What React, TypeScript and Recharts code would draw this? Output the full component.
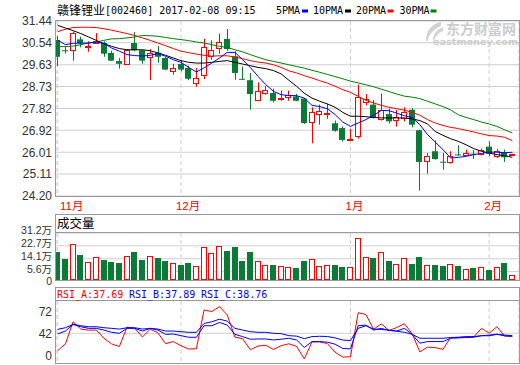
import React from 'react';
import { ComposedChart, Bar, Line, XAxis, YAxis, CartesianGrid, ReferenceLine } from 'recharts';

// daily candles, 2016-11 .. 2017-02-08
const opens = [30.65, 30.23, 30.23, 30.68, 30.36, 30.53, 30.53, 30.12, 29.78, 29.67, 30.53, 30.23, 29.94, 30.13, 29.91, 29.36, 29.66, 29.5, 28.86, 29.22, 30.01, 30.31, 30.7, 29.98, 29.05, 28.99, 28.16, 28.45, 28.46, 28.2, 28.28, 28.32, 28.23, 27.25, 27.61, 27.59, 27.21, 27.01, 26.5, 26.67, 28.08, 27.98, 27.39, 27.59, 27.34, 27.43, 27.77, 26.92, 25.63, 26.05, 25.62, 25.59, 25.92, 25.88, 25.95, 25.94, 26.24, 25.87, 26.01, 25.9];
const highs = [30.81, 30.39, 31.0, 30.79, 30.6, 30.94, 30.6, 30.21, 29.91, 30.28, 30.98, 30.25, 30.27, 30.4, 29.96, 29.67, 29.8, 29.59, 29.5, 30.7, 30.64, 30.92, 31.11, 30.19, 29.56, 29.29, 28.9, 28.74, 28.64, 28.56, 28.56, 28.42, 28.25, 27.87, 27.98, 28.01, 27.32, 27.08, 26.97, 28.81, 28.42, 28.17, 28.43, 27.81, 27.76, 27.87, 27.84, 26.94, 25.98, 26.5, 25.98, 26.05, 26.3, 26.12, 26.1, 26.16, 26.46, 26.14, 26.12, 25.95];
const lows = [29.58, 30.09, 29.8, 30.35, 30.17, 30.52, 29.96, 29.79, 29.47, 29.63, 30.19, 29.67, 29.0, 29.72, 29.41, 29.22, 29.36, 28.99, 28.72, 29.04, 29.84, 30.09, 30.21, 29.01, 29.01, 27.77, 28.12, 28.39, 28.07, 28.14, 28.14, 28.12, 27.18, 26.38, 27.15, 27.4, 26.86, 26.45, 26.49, 26.57, 27.95, 27.4, 27.32, 27.2, 27.07, 27.29, 27.04, 24.42, 25.12, 25.7, 25.29, 25.54, 25.87, 25.87, 25.73, 25.88, 25.85, 25.77, 25.61, 25.88];
const closes = [29.96, 30.21, 30.93, 30.53, 30.4, 30.6, 30.09, 29.8, 29.67, 30.24, 30.23, 29.8, 30.13, 29.96, 29.43, 29.5, 29.43, 29.05, 29.08, 30.35, 30.25, 30.56, 30.28, 29.29, 29.04, 28.42, 28.53, 28.59, 28.14, 28.25, 28.38, 28.14, 27.22, 27.66, 27.7, 27.65, 26.9, 26.52, 26.54, 28.28, 28.21, 27.43, 27.74, 27.29, 27.48, 27.66, 27.15, 25.61, 25.87, 25.73, 25.61, 25.84, 25.9, 25.98, 25.92, 26.12, 25.94, 26.08, 25.8, 25.92];

const ma5 = [30.65, 30.46, 30.52, 30.52, 30.53, 30.56, 30.52, 30.32, 30.19, 30.05, 30.01, 29.99, 30.02, 30.09, 29.98, 29.84, 29.73, 29.52, 29.33, 29.5, 29.7, 29.91, 30.14, 30.14, 29.84, 29.52, 29.15, 28.81, 28.53, 28.39, 28.36, 28.35, 28.25, 27.95, 27.9, 27.81, 27.57, 27.26, 27.08, 27.22, 27.36, 27.54, 27.74, 27.73, 27.63, 27.52, 27.45, 27.15, 26.74, 26.43, 26.12, 25.77, 25.8, 25.84, 25.91, 25.96, 26.02, 26.01, 25.99, 26.01];
const ma10 = [31.26, 31.15, 31.04, 30.92, 30.78, 30.64, 30.5, 30.39, 30.3, 30.25, 30.25, 30.25, 30.21, 30.12, 30.02, 29.91, 29.8, 29.73, 29.7, 29.7, 29.73, 29.77, 29.8, 29.73, 29.66, 29.59, 29.52, 29.47, 29.39, 29.25, 28.99, 28.74, 28.45, 28.25, 28.12, 28.01, 27.87, 27.66, 27.5, 27.5, 27.48, 27.45, 27.43, 27.43, 27.43, 27.43, 27.39, 27.32, 27.18, 26.87, 26.71, 26.57, 26.46, 26.32, 26.16, 26.05, 25.98, 25.91, 25.87, 25.8];
const ma20 = [31.0, 31.1, 31.17, 31.18, 31.18, 31.17, 31.12, 31.06, 30.99, 30.92, 30.84, 30.74, 30.64, 30.53, 30.42, 30.3, 30.19, 30.13, 30.07, 30.02, 29.99, 30.0, 30.0, 29.95, 29.88, 29.8, 29.74, 29.7, 29.63, 29.52, 29.38, 29.29, 29.18, 29.08, 28.97, 28.87, 28.74, 28.6, 28.49, 28.32, 28.16, 28.05, 27.95, 27.87, 27.81, 27.75, 27.66, 27.54, 27.36, 27.22, 27.12, 27.04, 26.99, 26.92, 26.85, 26.77, 26.7, 26.68, 26.63, 26.49];
const ma30 = [30.38, 30.38, 30.4, 30.46, 30.53, 30.57, 30.64, 30.7, 30.71, 30.74, 30.78, 30.84, 30.83, 30.81, 30.76, 30.71, 30.67, 30.63, 30.57, 30.53, 30.46, 30.39, 30.35, 30.25, 30.16, 30.05, 29.94, 29.84, 29.77, 29.7, 29.63, 29.56, 29.49, 29.4, 29.32, 29.23, 29.14, 29.05, 28.95, 28.88, 28.8, 28.72, 28.62, 28.52, 28.42, 28.33, 28.29, 28.23, 28.12, 28.01, 27.9, 27.76, 27.56, 27.45, 27.36, 27.26, 27.18, 27.08, 26.94, 26.81];

// 成交量, 万手
const volumes = [18.68, 13.62, 24.17, 16.48, 11.65, 14.94, 13.18, 11.86, 11.21, 16.26, 18.9, 13.18, 16.26, 14.5, 12.52, 10.99, 9.89, 11.21, 9.01, 22.19, 18.24, 22.85, 19.12, 21.75, 12.52, 18.46, 12.3, 9.67, 9.89, 9.01, 8.35, 7.91, 12.52, 13.62, 9.01, 9.67, 9.67, 8.57, 8.35, 28.12, 15.6, 14.5, 18.9, 12.52, 10.33, 14.28, 10.55, 14.94, 9.67, 9.67, 9.23, 10.33, 9.23, 7.03, 7.91, 8.35, 6.59, 8.35, 11.21, 3.08];

const rsiA = [17.5, 27.0, 58.3, 48.0, 46.5, 46.6, 35.0, 27.0, 23.3, 50.8, 49.0, 36.8, 47.8, 42.7, 27.3, 30.3, 24.5, 19.8, 20.1, 75.0, 72.8, 79.8, 68.0, 36.6, 34.3, 18.7, 24.0, 25.0, 19.2, 24.5, 27.2, 23.5, 5.8, 29.8, 29.8, 27.5, 15.2, 8.4, 8.8, 71.2, 68.6, 47.8, 55.3, 46.0, 50.2, 55.5, 41.5, 15.8, 22.4, 21.7, 19.4, 36.2, 35.9, 37.3, 36.8, 49.0, 42.2, 51.3, 38.0, 37.69];
const rsiB = [41.0, 45.2, 54.6, 51.3, 49.0, 49.0, 46.6, 43.4, 42.0, 49.0, 49.0, 45.2, 49.0, 46.6, 40.6, 41.0, 38.7, 36.4, 36.4, 52.7, 52.7, 57.4, 53.6, 40.6, 37.3, 33.6, 34.0, 34.0, 32.6, 33.6, 35.0, 32.6, 21.9, 30.3, 30.3, 29.5, 26.6, 20.5, 20.0, 52.7, 53.6, 46.6, 49.0, 46.0, 45.2, 49.0, 40.6, 28.0, 30.3, 30.3, 30.3, 35.0, 35.5, 36.0, 36.5, 38.7, 38.5, 40.6, 38.5, 37.89];
const rsiC = [47.6, 49.9, 54.6, 52.7, 51.3, 51.3, 49.9, 49.0, 48.0, 49.9, 49.9, 48.0, 49.0, 48.0, 45.2, 45.2, 44.3, 43.4, 43.4, 56.0, 58.3, 62.0, 59.2, 49.0, 46.6, 44.3, 43.4, 43.4, 42.0, 41.5, 38.7, 38.0, 34.5, 37.3, 37.8, 37.5, 35.5, 32.5, 31.7, 49.0, 52.7, 48.0, 47.5, 46.5, 45.0, 43.4, 40.6, 35.0, 35.0, 35.0, 35.0, 36.0, 36.5, 37.0, 37.5, 38.5, 39.5, 40.6, 39.5, 38.76];

const monthTicks = [0, 16, 38, 56];
const monthLabels = ['11月', '12月', '1月', '2月'];
const priceTicks = [24.2, 25.11, 26.01, 26.92, 27.82, 28.73, 29.63, 30.54, 31.44];
const volTicks = [0, 5.6, 14.1, 22.7, 31.2];
const rsiTicks = [0, 42, 72];

const RED = '#ff0000';
const GREEN = '#0a7a36';
const GRID = '#cfcfcf';
const BORDER = '#9a9a9a';
const LABEL = '#333333';
const X_DOMAIN = [-0.22, 59.87];
const AXIS_FONT = 'Liberation Sans, Noto Sans CJK SC, sans-serif';
const MONO = 'DejaVu Sans Mono, monospace';

const rows = opens.map((open, i) => ({
  i,
  open,
  high: highs[i],
  low: lows[i],
  close: closes[i],
  ma5: ma5[i],
  ma10: ma10[i],
  ma20: ma20[i],
  ma30: ma30[i],
  vol: volumes[i],
  rsiA: rsiA[i],
  rsiB: rsiB[i],
  rsiC: rsiC[i],
}));

const Candle = (props: any) => {
  const { x, y, width, height, payload } = props;
  if (!payload) return null;
  const top = Math.min(y, y + height);
  const span = Math.abs(height);
  const { open, close, high, low } = payload;
  const k = high > low ? span / (high - low) : 0;
  const py = (v: number) => top + (high - v) * k;
  const c = Math.floor(x + width / 2);
  const wx = c + 0.5;
  const bTop = py(Math.max(open, close));
  const bBot = py(Math.min(open, close));
  if (close >= open) {
    const t = Math.round(bTop);
    const b = Math.max(Math.round(bBot), t + 1);
    return (
      <g>
        <line x1={wx} x2={wx} y1={top} y2={t} stroke={RED} />
        <line x1={wx} x2={wx} y1={b} y2={top + span} stroke={RED} />
        <rect x={c - 2.5} y={t + 0.5} width={5} height={b - t} fill="#fff" stroke={RED} />
      </g>
    );
  }
  return (
    <g>
      <line x1={wx} x2={wx} y1={top} y2={top + span} stroke={GREEN} />
      <rect x={c - 3} y={bTop} width={6} height={Math.max(bBot - bTop, 1)} fill={GREEN} />
    </g>
  );
};

const VolBar = (props: any) => {
  const { x, y, width, height, payload } = props;
  if (!payload) return null;
  const c = Math.floor(x + width / 2);
  const t = Math.round(y);
  const b = Math.round(y + height);
  if (payload.close >= payload.open) {
    return <rect x={c - 2.5} y={t + 0.5} width={5} height={Math.max(b - t - 1, 1)} fill="#fff" stroke={RED} />;
  }
  return <rect x={c - 3} y={t} width={6} height={b - t} fill={GREEN} />;
};

const MonthTick = (props: any) => {
  const { x, y, payload } = props;
  const n = monthTicks.indexOf(payload.value);
  return (
    <text x={Math.max(x - 5, 60)} y={y + 14} fill={RED} fontSize={11.5} fontFamily={AXIS_FONT}>
      {monthLabels[n]}
    </text>
  );
};

const RsiTick = (props: any) => {
  const { x, y, payload } = props;
  return (
    <text x={x} y={payload.value === 0 ? y - 7 : y} dy="0.355em" textAnchor="end" fill={LABEL} fontSize={12} fontFamily={AXIS_FONT}>
      {payload.value}
    </text>
  );
};

const VolTick = (props: any) => {
  const { x, y, payload } = props;
  const v = payload.value;
  return (
    <text x={x} y={v === 0 ? y + 1.5 : y - 2.5} dy="0.355em" textAnchor="end" fill={LABEL} fontSize={10.5} fontFamily={AXIS_FONT}>
      {v === 0 ? '0' : `${v.toFixed(1)}万`}
    </text>
  );
};

const yTick = { fontSize: 12, fill: LABEL, fontFamily: AXIS_FONT };

const Overlay = () => (
  <svg width={520} height={365} style={{ position: 'absolute', left: 0, top: 0, pointerEvents: 'none' }}>
    {/* header */}
    <text x={57} y={14.5} fontSize={12} fontFamily="Noto Sans CJK SC" fill="#000">赣锋锂业</text>
    <text x={105} y={14} fontSize={10} fontFamily={MONO} fill="#000">[002460] 2017-02-08 09:15</text>
    <text x={276} y={14} fontSize={10} fontFamily={MONO} fill="#000">5PMA</text>
    <rect x={302} y={9.5} width={6} height={3} fill="#0000ff" />
    <text x={313} y={14} fontSize={10} fontFamily={MONO} fill="#000">10PMA</text>
    <rect x={345} y={9.5} width={6} height={3} fill="#000" />
    <text x={356} y={14} fontSize={10} fontFamily={MONO} fill="#000">20PMA</text>
    <rect x={387.5} y={9.5} width={6} height={3} fill={RED} />
    <text x={399.5} y={14} fontSize={10} fontFamily={MONO} fill="#000">30PMA</text>
    <rect x={430.5} y={9.5} width={6} height={3} fill="#008000" />

    {/* watermark */}
    <path d="M441 22 C431 24 424 33 427 43 C428 36 433 29 441 26 Z M443 27 C436 30 432 36 433 42 C435 37 438 33 443 31 Z" fill="#d2d2d2" />
    <text x={446} y={34} fontSize={14} fontWeight="bold" fontFamily="Noto Sans CJK SC" fill="#cccccc">东方财富网</text>
    <text x={433} y={44.5} fontSize={8} fontWeight="bold" fontFamily="DejaVu Sans" fill="#cccccc" textLength={85} lengthAdjust="spacingAndGlyphs">eastmoney.com</text>

    {/* panel frames */}
    <g fill="none" stroke={BORDER} shapeRendering="crispEdges">
      <rect x={55.5} y={20.5} width={464} height={176} />
      <rect x={55.5} y={214.5} width={464} height={66} />
      <line x1={55.5} x2={519.5} y1={232.5} y2={232.5} />
      <rect x={55.5} y={287.5} width={464} height={76} />
      <line x1={55.5} x2={519.5} y1={300.5} y2={300.5} />
    </g>

    {/* panel titles */}
    <text x={57} y={228} fontSize={12.5} fontFamily="Noto Sans CJK SC" fill="#000">成交量</text>
    <text x={57} y={297.5} fontSize={10} fontFamily={MONO} fill={RED}>RSI_A:37.69</text>
    <text x={129} y={297.5} fontSize={10} fontFamily={MONO} fill="#0000ff">RSI_B:37.89</text>
    <text x={201} y={297.5} fontSize={10} fontFamily={MONO} fill="#0000ff">RSI_C:38.76</text>
  </svg>
);

export default function App() {
  return (
    <div style={{ position: 'absolute', left: 0, top: 0, width: 520, height: 365, background: '#fff', overflow: 'hidden' }}>
      {/* K-line panel */}
      <div style={{ position: 'absolute', left: 0, top: 0 }}>
        <ComposedChart width={520} height={215} data={rows} margin={{ top: 21, right: 1, bottom: 0, left: 0 }}>
          <CartesianGrid vertical={false} stroke={GRID} />
          <CartesianGrid horizontal={false} stroke={GRID} strokeDasharray="4 3" />
          <XAxis dataKey="i" type="number" domain={X_DOMAIN} ticks={monthTicks} interval={0} allowDataOverflow axisLine={false} tickLine={false} tickSize={0} tickMargin={0} height={19} tick={<MonthTick />} />
          <YAxis type="number" domain={[24.2, 31.44]} ticks={priceTicks} interval={0} allowDataOverflow width={56} axisLine={false} tickLine={false} tickSize={0} tickMargin={4} tick={yTick} tickFormatter={(v: number) => v.toFixed(2)} />
          <Bar dataKey={(d: any) => [d.low, d.high]} barSize={6} shape={<Candle />} isAnimationActive={false} />
          <Line type="linear" dataKey="ma30" stroke="#008000" strokeWidth={1} dot={false} isAnimationActive={false} />
          <Line type="linear" dataKey="ma20" stroke={RED} strokeWidth={1} dot={false} isAnimationActive={false} />
          <Line type="linear" dataKey="ma10" stroke="#000" strokeWidth={1} dot={false} isAnimationActive={false} />
          <Line type="linear" dataKey="ma5" stroke="#0000ff" strokeWidth={1} dot={false} isAnimationActive={false} />
        </ComposedChart>
      </div>

      {/* volume panel */}
      <div style={{ position: 'absolute', left: 0, top: 214 }}>
        <ComposedChart width={520} height={72} data={rows} margin={{ top: 19, right: 1, bottom: 6, left: 0 }}>
          <CartesianGrid vertical={false} stroke={GRID} />
          <CartesianGrid horizontal={false} stroke={GRID} strokeDasharray="4 3" />
          <XAxis dataKey="i" type="number" domain={X_DOMAIN} ticks={monthTicks} interval={0} allowDataOverflow hide />
          <YAxis type="number" domain={[0, 31.2]} ticks={volTicks} interval={0} allowDataOverflow width={56} axisLine={false} tickLine={false} tickSize={0} tickMargin={4} tick={<VolTick />} />
          <Bar dataKey="vol" barSize={6} shape={<VolBar />} isAnimationActive={false} />
        </ComposedChart>
      </div>

      {/* RSI panel */}
      <div style={{ position: 'absolute', left: 0, top: 287 }}>
        <ComposedChart width={520} height={76} data={rows} margin={{ top: 14, right: 1, bottom: 0, left: 0 }}>
          <CartesianGrid horizontal={false} stroke={GRID} strokeDasharray="4 3" />
          <ReferenceLine y={42} stroke={GRID} />
          <XAxis dataKey="i" type="number" domain={X_DOMAIN} ticks={monthTicks} interval={0} allowDataOverflow hide />
          <YAxis type="number" domain={[0, 87.7]} ticks={rsiTicks} interval={0} allowDataOverflow width={56} axisLine={false} tickLine={false} tickSize={0} tickMargin={4} tick={<RsiTick />} />
          <Line type="linear" dataKey="rsiA" stroke={RED} strokeWidth={1} dot={false} isAnimationActive={false} />
          <Line type="linear" dataKey="rsiB" stroke="#0000ff" strokeWidth={1} dot={false} isAnimationActive={false} />
          <Line type="linear" dataKey="rsiC" stroke="#0000ff" strokeWidth={1} dot={false} isAnimationActive={false} />
        </ComposedChart>
      </div>

      <Overlay />
    </div>
  );
}
